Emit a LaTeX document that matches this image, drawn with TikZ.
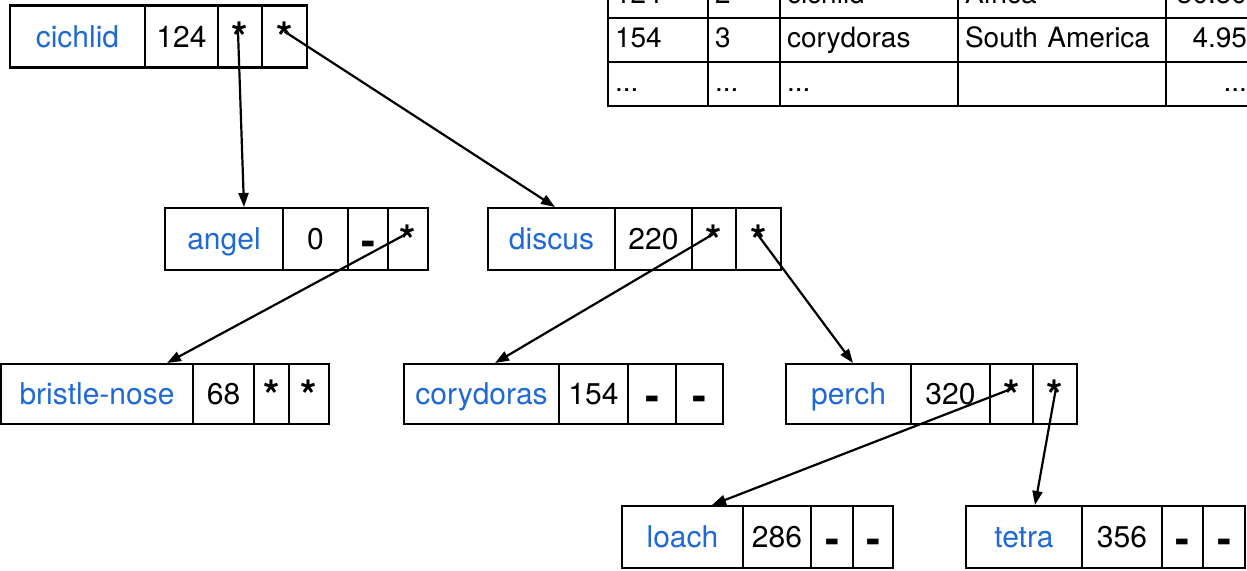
\documentclass[tikz,border=0pt]{standalone}
\usepackage{fontspec}
\setmainfont{TeX Gyre Heros}
\usetikzlibrary{arrows.meta}
\definecolor{fishblue}{RGB}{30,105,215}
\newcommand\tdots{...}
\begin{document}
\begin{tikzpicture}[x=1pt,y=-1pt,
  cell/.style={draw, line width=2.6pt, minimum height=62pt, inner sep=0pt, outer sep=0pt, anchor=west, font=\fontsize{30}{36}\selectfont, text height=22pt, text depth=1pt},
  fishname/.style={cell, text=fishblue},
  ptrcell/.style={cell, font=\fontsize{42}{48}\selectfont\bfseries, text height=32pt, text depth=0pt},
  tcell/.style={draw, line width=2.2pt, minimum height=44pt, inner ysep=0pt, inner xsep=7pt, outer sep=0pt, anchor=north west, align=left, font=\fontsize{28}{34}\selectfont, text height=20pt, text depth=6pt},
  ptrlink/.style={line width=2.2pt, -{Triangle[length=14pt,width=10pt]}}]
\clip (0,0) rectangle (1247,570);
\fill[white] (0,0) rectangle (1247,570);

% table
\node[tcell, text width=86pt] (t1a) at (608,-26) {124};
\node[tcell, text width=58pt] (t1b) at (t1a.north east) {2};
\node[tcell, text width=164pt] (t1c) at (t1b.north east) {cichlid};
\node[tcell, text width=194pt] (t1d) at (t1c.north east) {Africa};
\node[tcell, text width=74pt, align=right] (t1e) at (t1d.north east) {30.50};

\node[tcell, text width=86pt] (t2a) at (608,18) {154};
\node[tcell, text width=58pt] (t2b) at (t2a.north east) {3};
\node[tcell, text width=164pt] (t2c) at (t2b.north east) {corydoras};
\node[tcell, text width=194pt] (t2d) at (t2c.north east) {South America};
\node[tcell, text width=74pt, align=right] (t2e) at (t2d.north east) {4.95};

\node[tcell, text width=86pt] (t3a) at (608,62) {\tdots};
\node[tcell, text width=58pt] (t3b) at (t3a.north east) {\tdots};
\node[tcell, text width=164pt] (t3c) at (t3b.north east) {\tdots};
\node[tcell, text width=194pt] (t3d) at (t3c.north east) {};
\node[tcell, text width=74pt, align=right] (t3e) at (t3d.north east) {\tdots};

% records
\node[fishname, minimum width=135pt] (ci) at (10,36.5) {cichlid};
\node[cell, minimum width=73pt] (cin) at (ci.east) {124};
\node[ptrcell, minimum width=44pt] (cia) at (cin.east) {*};
\node[ptrcell, minimum width=45pt] (cib) at (cia.east) {*};

\node[fishname, minimum width=118pt] (an) at (165,239) {angel};
\node[cell, minimum width=65pt] (ann) at (an.east) {0};
\node[ptrcell, minimum width=40pt] (ana) at (ann.east) {-};
\node[ptrcell, minimum width=40pt] (anb) at (ana.east) {*};

\node[fishname, minimum width=127pt] (di) at (488,239) {discus};
\node[cell, minimum width=77pt] (din) at (di.east) {220};
\node[ptrcell, minimum width=44pt] (dia) at (din.east) {*};
\node[ptrcell, minimum width=45pt] (dib) at (dia.east) {*};

\node[fishname, minimum width=192pt, minimum height=60pt] (br) at (1,394) {bristle-nose};
\node[cell, minimum width=61pt, minimum height=60pt] (brn) at (br.east) {68};
\node[ptrcell, minimum width=35pt, minimum height=60pt] (bra) at (brn.east) {*};
\node[ptrcell, minimum width=40pt, minimum height=60pt] (brb) at (bra.east) {*};

\node[fishname, minimum width=155pt, minimum height=60pt] (co) at (404,394) {corydoras};
\node[cell, minimum width=69pt, minimum height=60pt] (con) at (co.east) {154};
\node[ptrcell, minimum width=48pt, minimum height=60pt] (coa) at (con.east) {-};
\node[ptrcell, minimum width=47pt, minimum height=60pt] (cob) at (coa.east) {-};

\node[fishname, minimum width=125pt, minimum height=60pt] (pe) at (786,394) {perch};
\node[cell, minimum width=79pt, minimum height=60pt] (pen) at (pe.east) {320};
\node[ptrcell, minimum width=43pt, minimum height=60pt] (pea) at (pen.east) {*};
\node[ptrcell, minimum width=44pt, minimum height=60pt] (peb) at (pea.east) {*};

\node[fishname, minimum width=121pt] (lo) at (622,537) {loach};
\node[cell, minimum width=68pt] (lon) at (lo.east) {286};
\node[ptrcell, minimum width=42pt] (loa) at (lon.east) {-};
\node[ptrcell, minimum width=40pt] (lob) at (loa.east) {-};

\node[fishname, minimum width=116pt] (te) at (966,537) {tetra};
\node[cell, minimum width=80pt] (ten) at (te.east) {356};
\node[ptrcell, minimum width=41pt] (tea) at (ten.east) {-};
\node[ptrcell, minimum width=42pt] (teb) at (tea.east) {-};

% link anchors
\coordinate (s1) at ([xshift=-2pt,yshift=5pt]cia.center);
\coordinate (s2) at ([yshift=5pt]cib.center);
\coordinate (s3) at ([yshift=6pt]anb.center);
\coordinate (s4) at ([xshift=1pt,yshift=6pt]dia.center);
\coordinate (s5) at ([xshift=-2pt,yshift=6pt]dib.center);
\coordinate (s6) at ([xshift=2pt,yshift=6pt]pea.center);
\coordinate (s7) at ([xshift=1pt,yshift=6pt]peb.center);
\coordinate (e1) at ([xshift=20pt,yshift=1pt]an.north);
\coordinate (e2) at ([xshift=3.5pt,yshift=1pt]di.north);
\coordinate (e3) at ([xshift=70pt,yshift=1pt]br.north);
\coordinate (e4) at ([xshift=13.5pt,yshift=1pt]co.north);
\coordinate (e5) at ([xshift=4.5pt,yshift=1pt]pe.north);
\coordinate (e6) at ([xshift=29.5pt,yshift=1pt]lo.north);
\coordinate (e7) at ([xshift=11pt,yshift=1pt]te.north);

\foreach \i in {1,...,7}{\draw[ptrlink] (s\i) -- (e\i);}
\end{tikzpicture}
\end{document}
